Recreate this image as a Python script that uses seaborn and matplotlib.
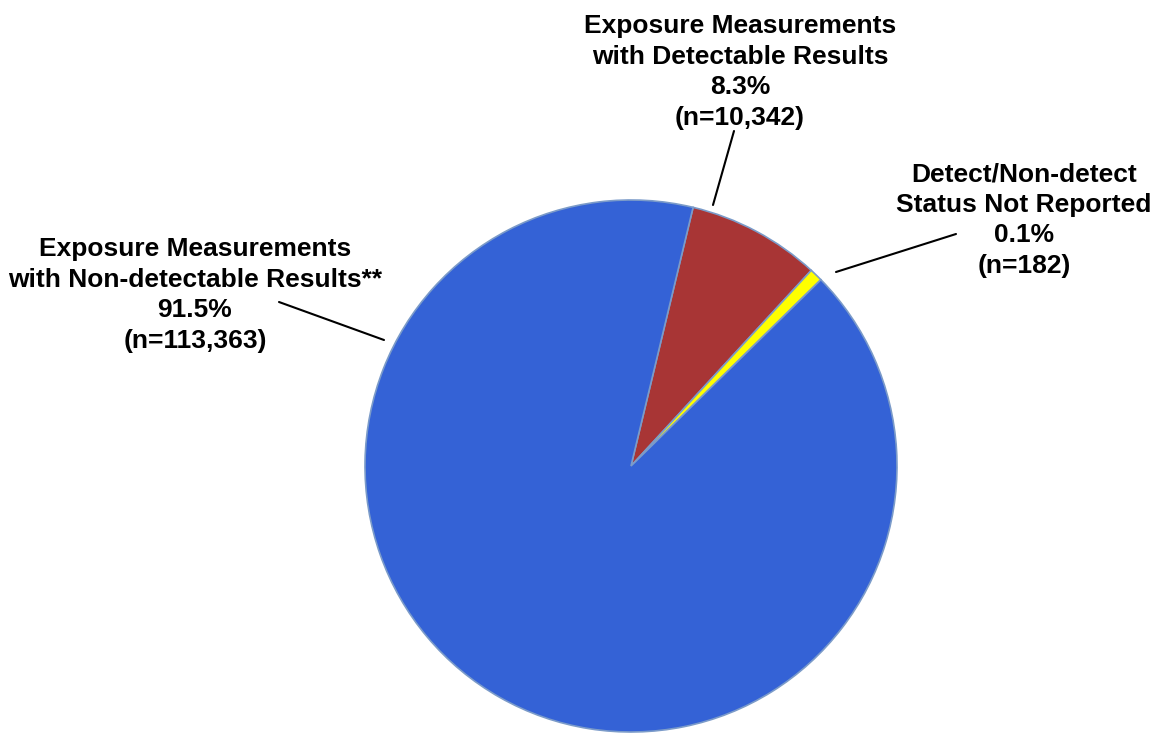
import seaborn as sns
import matplotlib
matplotlib.use("Agg")
import matplotlib.pyplot as plt

# slice order: detectable, not reported, non-detectable (clockwise from the top)
categories = ["Exposure Measurements\nwith Detectable Results",
              "Detect/Non-detect\nStatus Not Reported",
              "Exposure Measurements\nwith Non-detectable Results**"]
percent_labels = ["8.3%", "0.1%", "91.5%"]
count_labels = ["(n=10,342)", "(n=182)", "(n=113,363)"]
# slice sizes as drawn in the picture (small slice is drawn wider than its share)
slice_share = [8.1, 0.8, 91.1]
colors = ["#a83535", "#ffff00", "#3462d6"]

sns.set_theme(style="white")
plt.rcParams['font.family'] = ['Liberation Sans', 'DejaVu Sans']

W, H = 1154, 734
fig = plt.figure(figsize=(W / 100, H / 100), dpi=100)
ax = fig.add_axes([0, 0, 1, 1])
ax.set_xlim(0, W)
ax.set_ylim(0, H)
ax.set_aspect("equal")
ax.axis("off")

cx, cy, r = 631, H - 466, 266
ax.pie(slice_share, colors=colors, startangle=76.5, counterclock=False,
       center=(cx, cy), radius=r,
       wedgeprops=dict(edgecolor="#7b9bc9", linewidth=1.2))
ax.set_xlim(0, W)
ax.set_ylim(0, H)

# label centers (top of text block) and leader lines, in image pixels
label_pos = [(740, 14), (1024, 162), (195, 237)]
leaders = [((734, 131), (713, 205)),
           ((956, 234), (836, 272)),
           ((279, 302), (384, 340))]

for i in range(3):
    txt = categories[i] + "\n" + percent_labels[i] + "\n" + count_labels[i]
    x, y = label_pos[i]
    ax.text(x, H - y, txt, ha="center", va="top", fontsize=19,
            fontweight="bold", color="black", linespacing=1.35)
    (x0, y0), (x1, y1) = leaders[i]
    ax.plot([x0, x1], [H - y0, H - y1], color="black", lw=1.5)

fig.savefig("out.png", dpi=100)
